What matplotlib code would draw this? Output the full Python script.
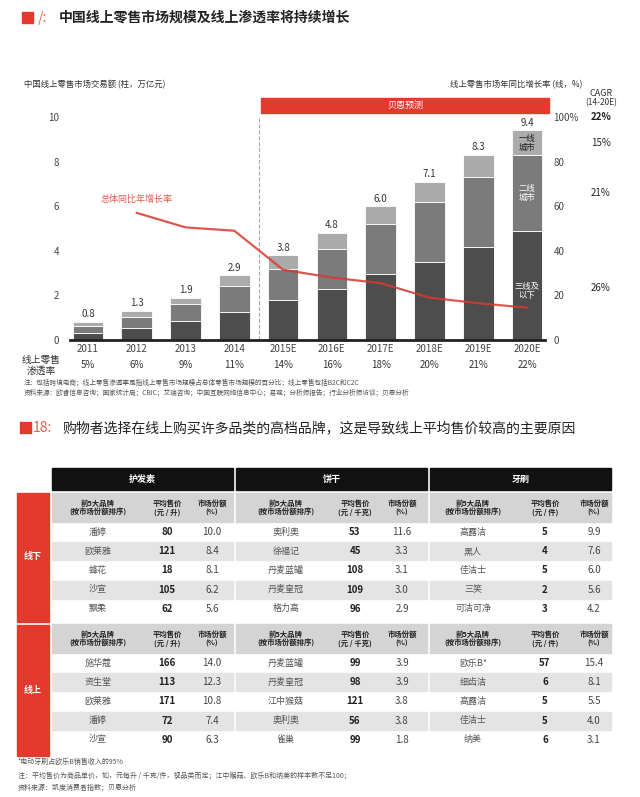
import matplotlib
matplotlib.use("Agg")
import matplotlib.pyplot as plt
from matplotlib.patches import Rectangle

plt.rcParams["font.family"] = ["Noto Sans CJK SC", "DejaVu Sans"]

# ---- top chart data ----
years = ["2011", "2012", "2013", "2014", "2015E", "2016E", "2017E", "2018E", "2019E", "2020E"]
totals = [0.8, 1.3, 1.9, 2.9, 3.8, 4.8, 6.0, 7.1, 8.3, 9.4]
tier3 = [0.3, 0.55, 0.85, 1.25, 1.8, 2.3, 2.95, 3.5, 4.15, 4.9]
tier2 = [0.35, 0.5, 0.75, 1.15, 1.4, 1.8, 2.25, 2.7, 3.15, 3.4]
tier1 = [0.15, 0.25, 0.3, 0.5, 0.6, 0.7, 0.8, 0.9, 1.0, 1.1]
growth = [None, 57, 50.5, 49, 31.5, 28, 25.5, 19, 16.5, 14.5]
penetration = ["5%", "6%", "9%", "11%", "14%", "16%", "18%", "20%", "21%", "22%"]
cagr_labels = ["22%", "15%", "21%", "26%"]

# ---- table data ----
groups = ["护发素", "饼干", "牙刷"]
units = ["元 / 升", "元 / 千克", "元 / 件"]
offline_brands = [["潘婷", "欧莱雅", "蜂花", "沙宣", "飘柔"],
                  ["奥利奥", "徐福记", "丹麦蓝罐", "丹麦皇冠", "格力高"],
                  ["高露洁", "黑人", "佳洁士", "三笑", "可洁可净"]]
offline_price = [[80, 121, 18, 105, 62], [53, 45, 108, 109, 96], [5, 4, 5, 2, 3]]
offline_share = [["10.0", "8.4", "8.1", "6.2", "5.6"], ["11.6", "3.3", "3.1", "3.0", "2.9"],
                 ["9.9", "7.6", "6.0", "5.6", "4.2"]]
online_brands = [["施华蔻", "资生堂", "欧莱雅", "潘婷", "沙宣"],
                 ["丹麦蓝罐", "丹麦皇冠", "江中猴菇", "奥利奥", "雀巢"],
                 ["欧乐B*", "细齿洁", "高露洁", "佳洁士", "纳美"]]
online_price = [[166, 113, 171, 72, 90], [99, 98, 121, 56, 99], [57, 6, 5, 5, 6]]
online_share = [["14.0", "12.3", "10.8", "7.4", "6.3"], ["3.9", "3.9", "3.8", "3.8", "1.8"],
                ["15.4", "8.1", "5.5", "4.0", "3.1"]]

W, H = 640, 797
RED = "#e23a2c"
fig = plt.figure(figsize=(W / 100, H / 100), dpi=100)

# overlay in pixel coordinates
ov = fig.add_axes([0, 0, 1, 1])
ov.set_xlim(0, W)
ov.set_ylim(H, 0)
ov.axis("off")

# ---- bar chart ----
x0, x1, yb, yt = 70, 545, 340, 117
ax = fig.add_axes([x0 / W, 1 - yb / H, (x1 - x0) / W, (yb - yt) / H])
n = len(years)
idx = list(range(n))
ax.bar(idx, tier3, width=0.63, color="#4d4d4d", edgecolor="white", linewidth=0.6)
ax.bar(idx, tier2, width=0.63, bottom=tier3, color="#7b7b7b", edgecolor="white", linewidth=0.6)
bot2 = [a + b for a, b in zip(tier3, tier2)]
ax.bar(idx, tier1, width=0.63, bottom=bot2, color="#ababab", edgecolor="white", linewidth=0.6)
for i, t in enumerate(totals):
    ax.text(i, t + 0.12, f"{t}", ha="center", va="bottom", fontsize=7, color="#333")
ax.set_xlim(-0.37, 9.37)
ax.set_ylim(0, 10)
ax.set_yticks([0, 2, 4, 6, 8, 10])
ax.tick_params(axis="y", length=0, labelsize=7, colors="#444", pad=8)
ax.set_xticks(idx)
ax.set_xticklabels(years, fontsize=7, color="#444")
ax.tick_params(axis="x", length=0, pad=3)
for s in ["top", "right", "left"]:
    ax.spines[s].set_visible(False)
ax.spines["bottom"].set_linewidth(2)
ax.spines["bottom"].set_color("#222")
ax.axvline(4 - 0.5, color="#aaaaaa", linestyle="--", linewidth=0.8, ymin=0, ymax=1.0)

ax2 = ax.twinx()
ax2.set_ylim(0, 100)
gx = [i for i, g in enumerate(growth) if g is not None]
gy = [g for g in growth if g is not None]
ax2.plot(gx, gy, color="#d93a30", linewidth=1.6, alpha=0.85)
ax2.set_yticks([0, 20, 40, 60, 80, 100])
ax2.set_yticklabels(["0", "20", "40", "60", "80", "100%"])
ax2.tick_params(axis="y", length=0, labelsize=7, colors="#444", pad=6)
for s in ["top", "right", "left", "bottom"]:
    ax2.spines[s].set_visible(False)

ax.text(9, 8.85, "一线\n城市", ha="center", va="center", fontsize=6, color="#222", linespacing=1.0)
ax.text(9, 6.6, "二线\n城市", ha="center", va="center", fontsize=6, color="white", linespacing=1.0)
ax.text(9, 2.2, "三线及\n以下", ha="center", va="center", fontsize=6, color="white", linespacing=1.0)
ax.text(1.0, 6.3, "总体同比年增长率", ha="center", va="center", fontsize=6.5, color="#e05a50")

# banner and titles
ov.add_patch(Rectangle((261, 98), 288, 15, color=RED))
ov.text(405, 105.5, "贝恩预测", ha="center", va="center", fontsize=6.5, color="white")
ov.add_patch(Rectangle((22, 12), 11, 11, color=RED))
ov.text(38, 18, "/:", fontsize=10, color="#e06050", va="center", style="italic")
ov.text(59, 18, "中国线上零售市场规模及线上渗透率将持续增长", fontsize=10, weight="bold", va="center", color="#222")
ov.text(24, 85, "中国线上零售市场交易额 (柱，万亿元)", fontsize=6, va="center", color="#333")
ov.text(582, 85, "线上零售市场年同比增长率 (线，%)", fontsize=6, va="center", ha="right", color="#333")
ov.text(601, 93, "CAGR", fontsize=6.5, ha="center", va="center", color="#333")
ov.text(601, 103, "(14-20E)", fontsize=6, ha="center", va="center", color="#333")
for lab, yy in zip(cagr_labels, [117, 143, 193, 288]):
    ov.text(601, yy, lab, fontsize=7, ha="center", va="center", color="#222",
            weight="bold" if lab == cagr_labels[0] else "normal")
ov.text(41, 365, "线上零售\n渗透率", fontsize=7, ha="center", va="center", color="#333", linespacing=1.1)
for i, p in enumerate(penetration):
    ov.text(88 + i * 48.8, 365, p, fontsize=7, ha="center", va="center", color="#333")
ov.text(24, 383, "注：包括跨境电商；线上零售渗透率是指线上零售市场规模占总体零售市场规模的百分比；线上零售包括B2C和C2C",
        fontsize=4.8, va="center", color="#555")
ov.text(24, 393, "资料来源：欧睿信息咨询；国家统计局；CBIC；艾瑞咨询；中国互联网络信息中心；易观；分析师报告；行业分析师访谈；贝恩分析",
        fontsize=4.8, va="center", color="#555")

# ---- second title ----
ov.add_patch(Rectangle((20, 422), 11, 11, color=RED))
ov.text(33, 428, "18:", fontsize=10, color="#e06050", va="center", style="italic")
ov.text(62, 428, "购物者选择在线上购买许多品类的高档品牌，这是导致线上平均售价较高的主要原因",
        fontsize=10, va="center", color="#222")

# ---- table ----
gx0 = [52, 236, 430]
gx1 = [233, 427, 611]
col_c = [[98, 167, 212], [286, 355, 402], [473, 545, 594]]
ov.add_patch(Rectangle((17, 493), 32, 129, color=RED))
ov.text(33, 557, "线下", fontsize=6.5, color="white", ha="center", va="center", weight="bold")
ov.add_patch(Rectangle((17, 625), 32, 131, color=RED))
ov.text(33, 690, "线上", fontsize=6.5, color="white", ha="center", va="center", weight="bold")
for g in range(3):
    ov.add_patch(Rectangle((gx0[g], 468), gx1[g] - gx0[g], 22, color="#111"))
    ov.text((gx0[g] + gx1[g]) / 2, 479, groups[g], fontsize=6.5, color="white",
            ha="center", va="center", weight="bold")


def section(top, brands, prices, shares):
    sub_h = 29
    for g in range(3):
        ov.add_patch(Rectangle((gx0[g], top), gx1[g] - gx0[g], sub_h, color="#d4d4d4"))
        hdr = ["前5大品牌\n(按市场份额排序)", f"平均售价\n({units[g]})", "市场份额\n(%)"]
        for c in range(3):
            ov.text(col_c[g][c], top + sub_h / 2, hdr[c], fontsize=5.3, ha="center", va="center",
                    color="#222", weight="bold", linespacing=1.2)
        for r in range(5):
            yc = top + sub_h + 10 + r * 19.2
            if r % 2 == 1:
                ov.add_patch(Rectangle((gx0[g], yc - 9), gx1[g] - gx0[g], 18, color="#e4e4e4"))
            ov.text(col_c[g][0], yc, brands[g][r], fontsize=6.5, ha="center", va="center", color="#555")
            ov.text(col_c[g][1], yc, str(prices[g][r]), fontsize=7, ha="center", va="center",
                    color="#222", weight="bold")
            ov.text(col_c[g][2], yc, shares[g][r], fontsize=7, ha="center", va="center", color="#444")


section(493, offline_brands, offline_price, offline_share)
section(624, online_brands, online_price, online_share)

ov.text(18, 762, "*电动牙刷占欧乐B销售收入的95%", fontsize=5, va="center", color="#555")
ov.text(18, 775, "注：平均售价为商品单价，如，元每升 / 千克/件，视品类而定；江中猴菇、欧乐B和纳美的样本数不足100；",
        fontsize=5, va="center", color="#555")
ov.text(18, 787, "资料来源：凯度消费者指数；贝恩分析", fontsize=5, va="center", color="#555")

fig.savefig("out.png", dpi=100, facecolor="white")
